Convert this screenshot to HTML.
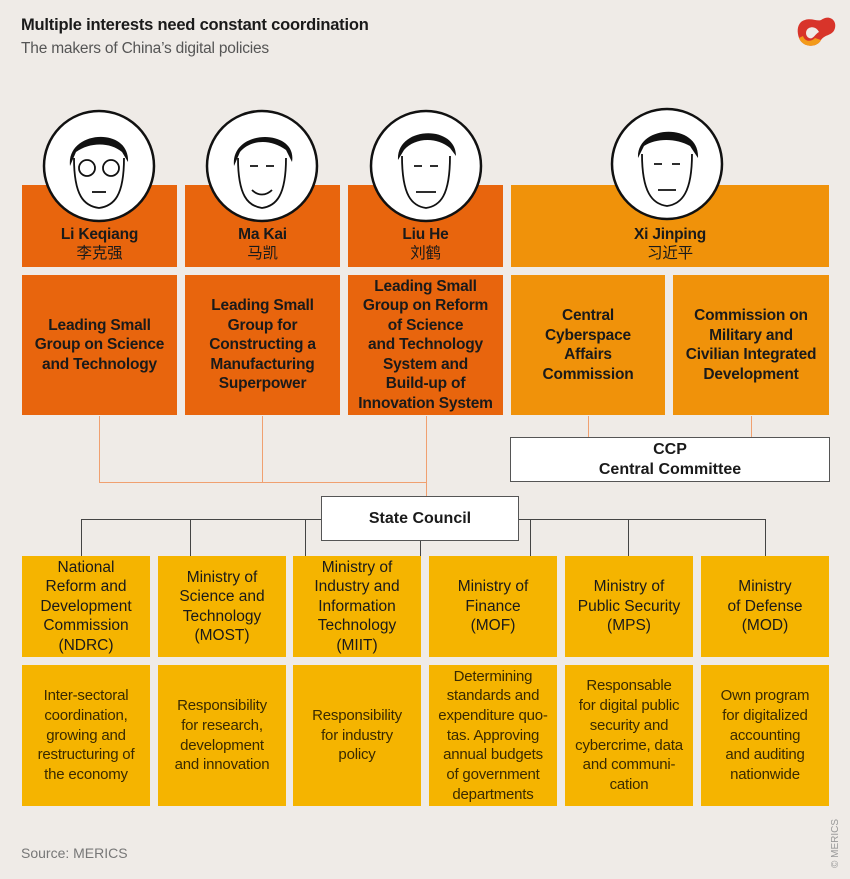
<!DOCTYPE html>
<html><head><meta charset="utf-8"><style>
body{margin:0;width:850px;height:879px;background:#efebe7;position:relative;overflow:hidden;font-family:"Liberation Sans","Noto Sans CJK SC",sans-serif;color:#1a1a1a}
.a{position:absolute}
.b{position:absolute;display:flex;align-items:center;justify-content:center;text-align:center;box-sizing:border-box}
.o{background:#e8650d;font-weight:bold;font-size:15.5px;line-height:19.5px;letter-spacing:-0.2px}
.l{background:#f0920a;font-weight:bold;font-size:15.5px;line-height:19.5px;letter-spacing:-0.2px}
.y{background:#f5b400;font-size:15.5px;line-height:19.5px}
.d{background:#f5b400;font-size:15px;line-height:19.7px;color:#3a2a00;letter-spacing:-0.2px}
.w{background:#fff;border:1.5px solid #555;font-weight:bold;font-size:16px;line-height:20px}
.v{position:absolute;width:1px}
.h{position:absolute;height:1px}
</style></head><body>
<div class="a" style="left:21px;top:16px;font-weight:bold;font-size:16.5px;letter-spacing:-0.2px">Multiple interests need constant coordination</div>
<div class="a" style="left:21px;top:40px;font-size:15.5px;color:#555;letter-spacing:-0.2px">The makers of China’s digital policies</div>
<svg class="a" style="left:795px;top:14px" width="44" height="36" viewBox="0 0 44 36"><path d="M6 8 C14 2 22 8 26 6 C34 0 42 6 40 14 C38 22 30 20 26 26 C22 34 8 34 4 24 C2 18 2 12 6 8 Z M14 14 C10 16 10 22 14 24 C18 26 20 20 24 18 C22 14 18 12 14 14Z" fill="#d8342a" fill-rule="evenodd"/><path d="M4 24 C8 34 22 34 26 26 L20 24 C16 28 10 28 8 22Z" fill="#f39a1a"/></svg>

<div class="b o" style="left:22px;top:185px;width:155px;height:82px;padding-top:36px;flex-direction:column">Li Keqiang<span style="font-weight:normal">李克强</span></div>
<div class="b o" style="left:185px;top:185px;width:155px;height:82px;padding-top:36px;flex-direction:column">Ma Kai<span style="font-weight:normal">马凯</span></div>
<div class="b o" style="left:348px;top:185px;width:155px;height:82px;padding-top:36px;flex-direction:column">Liu He<span style="font-weight:normal">刘鹤</span></div>
<div class="b l" style="left:511px;top:185px;width:318px;height:82px;padding-top:36px;flex-direction:column">Xi Jinping<span style="font-weight:normal">习近平</span></div>

<div class="b o" style="left:22px;top:275px;width:155px;height:140px"><div>Leading Small<br>Group on Science<br>and Technology</div></div>
<div class="b o" style="left:185px;top:275px;width:155px;height:140px"><div>Leading Small<br>Group for<br>Constructing a<br>Manufacturing<br>Superpower</div></div>
<div class="b o" style="left:348px;top:275px;width:155px;height:140px"><div>Leading Small<br>Group on Reform<br>of Science<br>and Technology<br>System and<br>Build-up of<br>Innovation System</div></div>
<div class="b l" style="left:511px;top:275px;width:154px;height:140px"><div>Central<br>Cyberspace<br>Affairs<br>Commission</div></div>
<div class="b l" style="left:673px;top:275px;width:156px;height:140px"><div>Commission on<br>Military and<br>Civilian Integrated<br>Development</div></div>

<svg class="a" style="left:0;top:100px" width="850" height="140">
<g stroke="#111" stroke-width="2.5" fill="#fff">
<circle cx="99" cy="66" r="55"/><circle cx="262" cy="66" r="55"/><circle cx="426" cy="66" r="55"/><circle cx="667" cy="64" r="55"/></g>
<g fill="#111">
<path d="M70 66 C66 30 130 26 128 62 L122 52 C110 42 90 42 76 52Z"/>
<path d="M234 66 C230 28 298 28 292 62 L286 50 C270 38 250 40 240 52Z"/>
<path d="M398 60 C396 26 456 24 456 56 L450 48 C436 36 414 38 404 50Z"/>
<path d="M638 58 C636 24 700 22 698 58 L690 46 C676 38 656 38 644 46Z"/>
</g>
<g fill="none" stroke="#111" stroke-width="1.8">
<path d="M74 58 C74 96 84 106 99 108 C114 106 124 96 124 58"/><circle cx="87" cy="68" r="8"/><circle cx="111" cy="68" r="8"/><path d="M92 92 H106"/>
<path d="M238 58 C238 96 248 106 262 108 C276 106 286 96 286 58"/><path d="M250 66 H258 M266 66 H274 M252 90 C258 96 266 96 272 90"/>
<path d="M402 56 C402 96 412 106 426 108 C440 106 450 96 450 56"/><path d="M414 66 H422 M430 66 H438 M416 92 H436"/>
<path d="M642 54 C642 92 652 104 667 106 C682 104 692 92 692 54"/><path d="M654 64 H662 M672 64 H680 M658 90 H676"/>
</g></svg>

<div class="v" style="left:99px;top:416px;height:66px;background:#f0a070"></div>
<div class="v" style="left:262px;top:416px;height:66px;background:#f0a070"></div>
<div class="v" style="left:426px;top:416px;height:80px;background:#f0a070"></div>
<div class="h" style="left:99px;top:482px;width:328px;background:#f0a070"></div>
<div class="v" style="left:588px;top:416px;height:21px;background:#f0a070"></div>
<div class="v" style="left:751px;top:416px;height:21px;background:#f0a070"></div>
<div class="b w" style="left:510px;top:437px;width:320px;height:45px"><div>CCP<br>Central Committee</div></div>

<div class="h" style="left:81px;top:519px;width:685px;background:#444"></div>
<div class="v" style="left:81px;top:519px;height:37px;background:#444"></div>
<div class="v" style="left:190px;top:519px;height:37px;background:#444"></div>
<div class="v" style="left:305px;top:519px;height:37px;background:#444"></div>
<div class="v" style="left:420px;top:540px;height:16px;background:#444"></div>
<div class="v" style="left:530px;top:519px;height:37px;background:#444"></div>
<div class="v" style="left:628px;top:519px;height:37px;background:#444"></div>
<div class="v" style="left:765px;top:519px;height:37px;background:#444"></div>
<div class="b w" style="left:321px;top:496px;width:198px;height:45px">State Council</div>

<div class="b y" style="left:22px;top:556px;width:128px;height:101px"><div>National<br>Reform and<br>Development<br>Commission<br>(NDRC)</div></div>
<div class="b y" style="left:158px;top:556px;width:128px;height:101px"><div>Ministry of<br>Science and<br>Technology<br>(MOST)</div></div>
<div class="b y" style="left:293px;top:556px;width:128px;height:101px"><div>Ministry of<br>Industry and<br>Information<br>Technology<br>(MIIT)</div></div>
<div class="b y" style="left:429px;top:556px;width:128px;height:101px"><div>Ministry of<br>Finance<br>(MOF)</div></div>
<div class="b y" style="left:565px;top:556px;width:128px;height:101px"><div>Ministry of<br>Public Security<br>(MPS)</div></div>
<div class="b y" style="left:701px;top:556px;width:128px;height:101px"><div>Ministry<br>of Defense<br>(MOD)</div></div>

<div class="b d" style="left:22px;top:665px;width:128px;height:141px"><div>Inter-sectoral<br>coordination,<br>growing and<br>restructuring of<br>the economy</div></div>
<div class="b d" style="left:158px;top:665px;width:128px;height:141px"><div>Responsibility<br>for research,<br>development<br>and innovation</div></div>
<div class="b d" style="left:293px;top:665px;width:128px;height:141px"><div>Responsibility<br>for industry<br>policy</div></div>
<div class="b d" style="left:429px;top:665px;width:128px;height:141px"><div>Determining<br>standards and<br>expenditure quo-<br>tas. Approving<br>annual budgets<br>of government<br>departments</div></div>
<div class="b d" style="left:565px;top:665px;width:128px;height:141px"><div>Responsable<br>for digital public<br>security and<br>cybercrime, data<br>and communi-<br>cation</div></div>
<div class="b d" style="left:701px;top:665px;width:128px;height:141px"><div>Own program<br>for digitalized<br>accounting<br>and auditing<br>nationwide</div></div>

<div class="a" style="left:21px;top:845px;font-size:14px;color:#777">Source: MERICS</div>
<div class="a" style="left:830px;top:868px;font-size:10px;color:#999;transform:rotate(-90deg);transform-origin:0 0;white-space:nowrap">© MERICS</div>
</body></html>
